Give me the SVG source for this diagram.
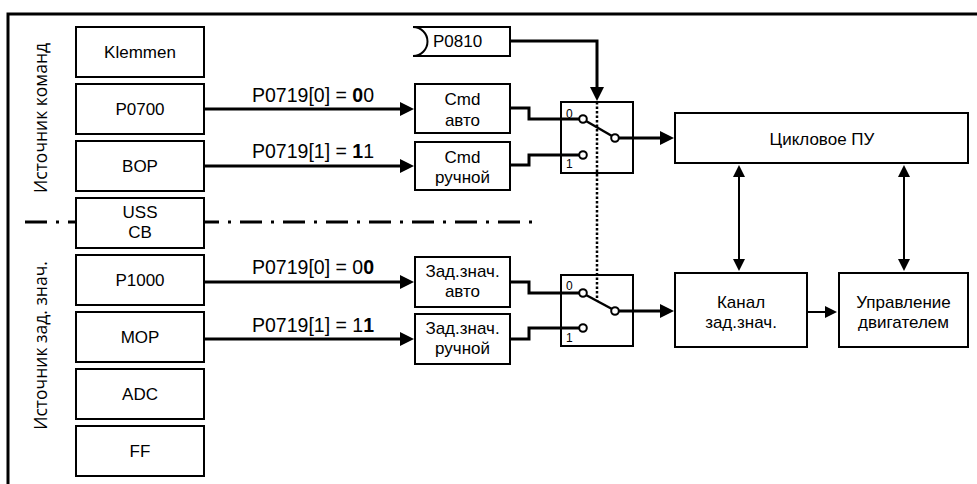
<svg xmlns="http://www.w3.org/2000/svg" width="977" height="484" viewBox="0 0 977 484">
<style>
.box{fill:#fff;stroke:#000;stroke-width:2}
.t{font-family:"Liberation Sans",Arial,sans-serif;font-size:17px;fill:#000;text-anchor:middle}
.v{font-family:"Open Sans","Noto Sans",sans-serif;font-size:17.5px;fill:#000;text-anchor:middle}
.s{font-family:"Liberation Sans",Arial,sans-serif;font-size:12px;fill:#000}
.p{font-family:"Liberation Sans",Arial,sans-serif;font-size:19.5px;fill:#000}
.b{font-weight:bold}
.w{fill:none;stroke:#000;stroke-width:3}
.th{fill:none;stroke:#000;stroke-width:2}
.c{fill:#fff;stroke:#000;stroke-width:2}
.sw{fill:none;stroke:#000;stroke-width:2}
</style>
<defs>
<marker id="a" markerUnits="userSpaceOnUse" markerWidth="14" markerHeight="14" refX="8" refY="7" orient="auto-start-reverse" viewBox="0 0 14 14">
<path d="M0,0 L14,7 L0,14 Z" fill="#000"/>
</marker>
<marker id="as" markerUnits="userSpaceOnUse" markerWidth="12" markerHeight="12" refX="7" refY="6" orient="auto-start-reverse" viewBox="0 0 12 12">
<path d="M0,0 L12,6 L0,12 Z" fill="#000"/>
</marker>
</defs>

<!-- frame -->
<path d="M8,484 V14 H977" fill="none" stroke="#000" stroke-width="3"/>

<!-- separator -->
<line x1="25" y1="222" x2="533" y2="222" stroke="#000" stroke-width="3" stroke-dasharray="22 9 3 9"/>

<text class="v" transform="translate(47,118) rotate(-90)">Источник команд</text>
<text class="v" transform="translate(47,345.5) rotate(-90)">Источник зад. знач.</text>

<g id="connectors">
<path class="w" d="M204,109 H408" marker-end="url(#a)"/>
<path class="w" d="M204,166 H408" marker-end="url(#a)"/>
<path class="w" d="M204,282 H408" marker-end="url(#a)"/>
<path class="w" d="M204,339 H408" marker-end="url(#a)"/>
<path class="w" d="M510,108 H529 V119 H579"/>
<path class="w" d="M510,165 H529 V155 H579"/>
<path class="w" d="M510,282 H529 V293 H579"/>
<path class="w" d="M510,339 H529 V328 H579"/>
<path class="w" d="M510,41 H597 V95" marker-end="url(#a)"/>
<line x1="597" y1="102" x2="597" y2="301" stroke="#000" stroke-width="2.5" stroke-dasharray="2.5 2"/>
<path class="w" d="M619,138 H668" marker-end="url(#a)"/>
<path class="w" d="M619,311 H668" marker-end="url(#a)"/>
<path class="th" d="M807,312 H832" marker-end="url(#as)"/>
<path class="th" d="M739,170 V266" marker-start="url(#as)" marker-end="url(#as)"/>
<path class="th" d="M904,170 V266" marker-start="url(#as)" marker-end="url(#as)"/>
</g>

<g id="klemmen"><rect class="box" x="76" y="27" width="128" height="50"/><text class="t" x="140" y="58">Klemmen</text></g>
<g id="p0700"><rect class="box" x="76" y="84" width="128" height="50"/><text class="t" x="140" y="115">P0700</text></g>
<g id="bop"><rect class="box" x="76" y="141" width="128" height="50"/><text class="t" x="140" y="172">BOP</text></g>
<g id="usscb"><rect class="box" x="76" y="198" width="128" height="50"/><text class="t" x="140" y="217.5">USS</text><text class="t" x="140" y="237.5">CB</text></g>
<g id="p1000"><rect class="box" x="76" y="255" width="128" height="50"/><text class="t" x="140" y="286">P1000</text></g>
<g id="mop"><rect class="box" x="76" y="312" width="128" height="50"/><text class="t" x="140" y="343">MOP</text></g>
<g id="adc"><rect class="box" x="76" y="369" width="128" height="50"/><text class="t" x="140" y="400">ADC</text></g>
<g id="ff"><rect class="box" x="76" y="426" width="128" height="50"/><text class="t" x="140" y="457">FF</text></g>

<g id="labels">
<text class="p" x="252" y="102">P0719[0] = <tspan class="b">0</tspan>0</text>
<text class="p" x="252" y="158">P0719[1] = <tspan class="b">1</tspan>1</text>
<text class="p" x="252" y="274">P0719[0] = 0<tspan class="b">0</tspan></text>
<text class="p" x="252" y="332">P0719[1] = 1<tspan class="b">1</tspan></text>
</g>

<g id="p0810"><path class="box" d="M413,27 H510 V56 H413 A14.5,14.5 0 0 0 413,27 Z"/><text class="t" x="433" y="47" style="text-anchor:start">P0810</text></g>

<g id="cmd-auto"><rect class="box" x="415" y="84" width="95" height="49"/><text class="t" x="462.5" y="105">Cmd</text><text class="t" x="462.5" y="126">авто</text></g>
<g id="cmd-manual"><rect class="box" x="415" y="142" width="95" height="48"/><text class="t" x="462.5" y="163">Cmd</text><text class="t" x="462.5" y="183">ручной</text></g>
<g id="sp-auto"><rect class="box" x="415" y="257" width="95" height="50"/><text class="t" x="462.5" y="277">Зад.знач.</text><text class="t" x="462.5" y="297">авто</text></g>
<g id="sp-manual"><rect class="box" x="415" y="314" width="95" height="50"/><text class="t" x="462.5" y="334">Зад.знач.</text><text class="t" x="462.5" y="354">ручной</text></g>

<g id="switch-cmd">
<rect class="sw" x="561" y="102" width="72" height="71"/>
<text class="s" x="566" y="118">0</text>
<text class="s" x="566" y="168">1</text>
<line x1="586" y1="121" x2="612" y2="136" stroke="#000" stroke-width="2.5"/>
<circle class="c" cx="583" cy="119" r="3.8"/>
<circle class="c" cx="615" cy="138" r="3.8"/>
<circle class="c" cx="583" cy="155" r="3.8"/>
</g>
<g id="switch-sp">
<rect class="sw" x="561" y="275" width="72" height="71"/>
<text class="s" x="566" y="290">0</text>
<text class="s" x="566" y="342">1</text>
<line x1="586" y1="295" x2="612" y2="309" stroke="#000" stroke-width="2.5"/>
<circle class="c" cx="583" cy="293" r="3.8"/>
<circle class="c" cx="615" cy="311" r="3.8"/>
<circle class="c" cx="583" cy="328" r="3.8"/>
</g>

<g id="cyclic"><rect class="box" x="675" y="113" width="293" height="50"/><text class="t" x="822" y="145">Цикловое ПУ</text></g>
<g id="channel"><rect class="box" x="675" y="273" width="132" height="74"/><text class="t" x="741" y="308">Канал</text><text class="t" x="741" y="328">зад.знач.</text></g>
<g id="motor"><rect class="box" x="839" y="273" width="129" height="74"/><text class="t" x="903.5" y="308">Управление</text><text class="t" x="903.5" y="328">двигателем</text></g>
</svg>
